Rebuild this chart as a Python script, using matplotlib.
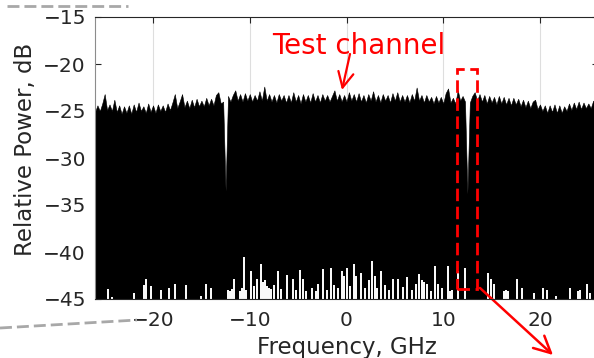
import numpy as np
import matplotlib
matplotlib.use("Agg")
import matplotlib.pyplot as plt
from matplotlib.patches import Rectangle
from matplotlib.lines import Line2D

# ---------------- data ----------------
freq_start_ghz = -26.0
freq_step_ghz = 0.25
# upper envelope of the spectrum trace, dB (one value per 0.25 GHz from -26 to 26 GHz)
upper_envelope_db = [
    -25.1, -24.4, -25.0, -24.2, -23.2, -24.9, -24.3, -25.0,
    -23.8, -25.1, -24.4, -25.3, -24.5, -25.2, -24.4, -25.3,
    -24.3, -25.1, -24.1, -25.0, -24.5, -25.2, -24.2, -25.1,
    -24.4, -25.2, -24.3, -25.0, -24.4, -25.1, -24.2, -24.9,
    -24.1, -23.2, -24.7, -24.0, -23.2, -24.6, -23.9, -24.7,
    -23.8, -24.6, -23.7, -24.5, -23.9, -24.5, -23.6, -24.4,
    -23.7, -24.4, -23.3, -23.0, -24.2, -24.0, -33.5, -23.4,
    -24.0, -23.3, -22.8, -23.9, -23.2, -24.0, -23.1, -23.9,
    -23.2, -24.0, -23.3, -23.9, -22.9, -23.9, -22.4, -23.9,
    -23.2, -24.0, -23.3, -24.1, -23.2, -23.9, -23.3, -24.1,
    -23.3, -24.1, -23.0, -24.0, -23.3, -24.2, -23.2, -24.0,
    -23.3, -24.1, -23.1, -24.0, -23.3, -24.1, -23.2, -23.9,
    -23.3, -24.0, -23.4, -22.8, -23.9, -23.2, -24.0, -23.3,
    -24.0, -23.0, -23.9, -23.2, -24.0, -23.1, -24.0, -23.3,
    -24.1, -23.2, -23.9, -22.9, -24.0, -23.3, -24.1, -23.2,
    -23.9, -23.3, -24.1, -23.1, -23.9, -23.0, -24.0, -23.3,
    -24.0, -23.3, -24.1, -23.2, -23.9, -22.5, -23.9, -23.3,
    -24.1, -23.3, -24.0, -23.5, -24.2, -23.4, -24.1, -23.5,
    -24.2, -23.1, -22.6, -24.1, -23.6, -24.2, -22.8, -23.9,
    -23.4, -24.0, -33.8, -24.1, -23.4, -23.0, -23.9, -23.2,
    -24.0, -23.3, -24.2, -23.4, -24.1, -23.5, -24.3, -23.4,
    -24.2, -23.5, -24.3, -23.6, -24.4, -23.6, -24.3, -23.7,
    -24.5, -23.8, -24.6, -23.9, -24.7, -24.0, -23.8, -24.8,
    -24.3, -25.0, -24.4, -25.2, -24.4, -25.1, -24.3, -25.2,
    -24.4, -25.2, -24.5, -25.0, -24.2, -24.9, -24.1, -24.8,
    -24.0, -24.8, -24.1, -24.7, -24.2, -24.7, -23.9, -24.6,
    -24.1,
]
# frequencies where the lower envelope of the trace rises above the floor (white gaps)
dip_freq_ghz = [
    -24.7, -24.2, -22.0, -20.9, -20.7, -20.2, -19.2, -18.3, -17.7, -16.6,
    -15.0, -14.5, -14.0,
    -12.2, -12.0, -11.8, -11.6, -11.0, -10.8, -10.6, -10.4, -9.9, -9.6, -9.3,
    -8.8, -8.6, -8.4, -8.2, -8.0, -7.8, -7.5, -7.1, -6.8, -6.2, -5.5, -5.2,
    -4.8, -4.5, -4.2, -3.6, -3.2, -2.9, -2.4, -2.0, -1.6, -1.3, -0.9, -0.5,
    -0.3, 0.1, 0.4, 0.8, 1.0, 1.5, 1.9, 2.3, 2.6, 2.9, 3.2, 3.6, 4.0, 4.4,
    4.8, 5.3, 5.8, 6.3, 6.8, 7.2, 7.5, 7.8, 8.0, 8.3, 8.7, 9.1, 9.5, 9.9,
    10.5, 10.7, 10.9, 11.5, 12.2,
    14.6, 14.9, 15.3, 16.3, 16.5, 16.7, 17.6, 18.1, 19.4, 20.3, 20.7, 21.7,
    23.1, 23.9, 24.1, 24.9, 25.2,
]
dip_level_db = [
    -43.9, -44.8, -44.4, -43.5, -42.9, -43.6, -44.0, -43.8, -43.4, -43.5,
    -44.7, -43.4, -43.8,
    -44.0, -44.1, -43.9, -42.9, -44.1, -43.8, -40.5, -44.0, -42.0, -43.6, -42.9,
    -41.3, -43.2, -43.0, -43.6, -43.8, -43.9, -43.5, -42.0, -43.9, -42.4, -42.9, -44.0,
    -41.9, -42.9, -44.1, -43.8, -44.2, -43.4, -41.8, -44.0, -41.7, -43.5, -43.8, -42.0,
    -42.5, -41.7, -43.6, -41.3, -42.5, -42.2, -43.8, -43.0, -41.0, -42.6, -43.8, -42.0, -43.5, -44.0,
    -42.9, -42.9, -43.7, -42.7, -44.0, -43.4, -42.3, -43.0, -43.2, -43.4, -44.1, -41.5, -43.4, -43.8,
    -41.5, -44.1, -44.0, -42.0, -41.7,
    -42.2, -42.9, -43.4, -44.1, -44.0, -44.2, -42.9, -43.8, -44.4, -43.8, -44.0, -44.7,
    -43.8, -44.1, -44.0, -43.4, -44.4,
]
x_ticks = [-20, -10, 0, 10, 20]
y_ticks = [-45, -40, -35, -30, -25, -20, -15]
x_limits = (-26, 26)
y_limits = (-45, -15)
test_box_freq = (11.4, 13.5)      # GHz
test_box_level = (-43.9, -20.55)  # dB

# ---------------- figure ----------------
plt.rcParams["font.family"] = ["DejaVu Sans"]
txt_color = "#262626"

fig = plt.figure(figsize=(5.94, 3.58), dpi=100)
W, H = 594, 358
ax = fig.add_axes([95 / W, 59 / H, 503 / W, 282 / H])

freq = freq_start_ghz + freq_step_ghz * np.arange(len(upper_envelope_db))
ax.fill_between(freq, y_limits[0] - 1, upper_envelope_db, color="black",
                lw=0.4, zorder=2)
ax.vlines(dip_freq_ghz, y_limits[0] - 1, dip_level_db, colors="white",
          lw=1.4, zorder=3)

ax.set_xlim(*x_limits)
ax.set_ylim(*y_limits)
ax.set_xticks(x_ticks)
ax.set_yticks(y_ticks)
ax.xaxis.grid(True, color="#dedede", lw=0.8)
ax.set_axisbelow(True)

for name, s in ax.spines.items():
    s.set_color(txt_color if name != "left" else "#8c8c8c")
    s.set_linewidth(0.8)
    s.set_zorder(4)

ax.tick_params(axis="both", direction="in", length=4, width=0.8,
               top=True, right=True, colors=txt_color, labelsize=14.5)
ax.tick_params(axis="y", pad=6.5)
ax.tick_params(axis="x", pad=8.5)

ax.set_xlabel("Frequency, GHz", fontsize=16.5, color=txt_color)
ax.set_ylabel("Relative Power, dB", fontsize=16.5, color=txt_color)
ax.xaxis.set_label_coords(0.5, -0.13)
ax.yaxis.set_label_coords((37 - 95) / 503, 0.53)

# red dashed box around the test channel
x0, x1 = test_box_freq
y0, y1 = test_box_level
ax.add_patch(Rectangle((x0, y0), x1 - x0, y1 - y0, fill=False,
                       edgecolor="#ff0000", lw=2.0, linestyle=(0, (4.5, 2.0)),
                       zorder=5, clip_on=False))

# annotation "Test channel"
fig.text(272 / W, 1 - 54 / H, "Test channel", color="#ff0000", fontsize=20,
         ha="left", va="baseline")
ax.annotate("", xy=(342 / W, 1 - 90 / H), xycoords="figure fraction",
            xytext=(350 / W, 1 - 54 / H), textcoords="figure fraction",
            arrowprops=dict(arrowstyle="->,head_length=1.1,head_width=0.55",
                            color="#ff0000", lw=1.6, shrinkA=0, shrinkB=0))

# big red arrow leaving the box
ax.annotate("", xy=(553 / W, 1 - 355 / H), xycoords="figure fraction",
            xytext=(480 / W, 1 - 288 / H), textcoords="figure fraction",
            arrowprops=dict(arrowstyle="->,head_length=1.2,head_width=0.6",
                            color="#ff0000", lw=1.8, shrinkA=0, shrinkB=0))

# grey dashed zoom lines outside the panel
fig.add_artist(Line2D([7 / W, 128 / W], [1 - 6 / H, 1 - 6 / H],
                      transform=fig.transFigure, color="#a8a8a8", lw=2,
                      dashes=(4.3, 1.8)))
fig.add_artist(Line2D([0 / W, 137 / W], [1 - 328 / H, 1 - 320 / H],
                      transform=fig.transFigure, color="#a8a8a8", lw=2,
                      dashes=(4.3, 1.8)))

fig.savefig("out.png", dpi=100)
